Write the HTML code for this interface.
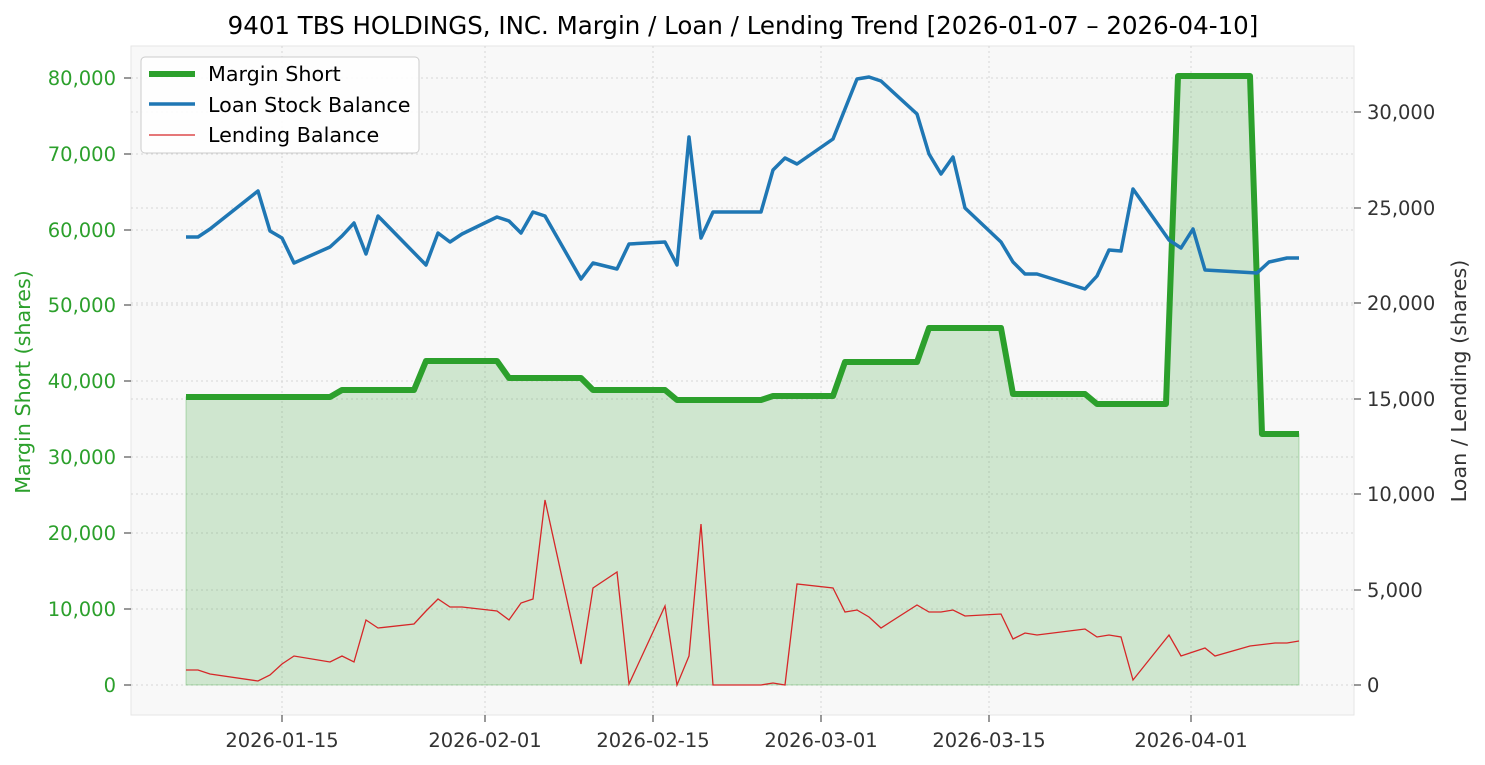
<!DOCTYPE html>
<html><head><meta charset="utf-8"><style>
body{margin:0;background:#fff;}
svg{display:block;font-family:"DejaVu Sans","Liberation Sans",sans-serif;}
</style></head><body>
<svg width="1485" height="765" viewBox="0 0 1485 765">
<rect x="0" y="0" width="1485" height="765" fill="#fff"/>
<rect x="131" y="46" width="1223" height="669" fill="#f8f8f8" stroke="#e6e6e6"/>
<g stroke="#d6d6d6" stroke-width="1" stroke-dasharray="2,3">
<line x1="282" y1="46" x2="282" y2="715"/><line x1="485" y1="46" x2="485" y2="715"/>
<line x1="653" y1="46" x2="653" y2="715"/><line x1="821" y1="46" x2="821" y2="715"/>
<line x1="989" y1="46" x2="989" y2="715"/><line x1="1191" y1="46" x2="1191" y2="715"/>
<line x1="131" y1="685" x2="1354" y2="685"/><line x1="131" y1="609" x2="1354" y2="609"/>
<line x1="131" y1="533" x2="1354" y2="533"/><line x1="131" y1="457" x2="1354" y2="457"/>
<line x1="131" y1="381" x2="1354" y2="381"/><line x1="131" y1="305" x2="1354" y2="305"/>
<line x1="131" y1="230" x2="1354" y2="230"/><line x1="131" y1="154" x2="1354" y2="154"/>
<line x1="131" y1="78" x2="1354" y2="78"/>
<line x1="131" y1="590" x2="1354" y2="590"/><line x1="131" y1="494" x2="1354" y2="494"/>
<line x1="131" y1="399" x2="1354" y2="399"/><line x1="131" y1="303" x2="1354" y2="303"/>
<line x1="131" y1="208" x2="1354" y2="208"/><line x1="131" y1="112" x2="1354" y2="112"/>
</g>
<polygon fill="#2ca02c" fill-opacity="0.2" stroke="#2ca02c" stroke-opacity="0.3" points="186,685 186,397 330,397 342,390 414,390 426,361 497,361 509,378 581,378 593,390 665,390 677,400 761,400 773,396 833,396 845,362 917,362 929,328 1001,328 1013,394 1085,394 1097,404 1166,404 1178,76 1250,76 1262,434 1299,434 1299,685"/>
<polyline fill="none" stroke="#d62728" stroke-width="1.3" points="186,670 198,670 210,674 258,681 270,675 282,664 294,656 330,662 342,656 354,662 366,620 378,628 414,624 426,611 438,599 450,607 462,607 497,611 509,620 521,603 533,599 545,500 581,664 593,588 617,572 629,684 665,606 677,685 689,656 701,524 713,685 761,685 773,683 785,685 797,584 833,588 845,612 857,610 869,617 881,628 917,605 929,612 941,612 953,610 965,616 1001,614 1013,639 1025,633 1037,635 1085,629 1097,637 1109,635 1121,637 1133,680 1169,635 1181,656 1193,652 1205,648 1215,656 1250,646 1275,643 1287,643 1299,641"/>
<polyline fill="none" stroke="#2ca02c" stroke-width="6" stroke-linejoin="round" points="186,397 330,397 342,390 414,390 426,361 497,361 509,378 581,378 593,390 665,390 677,400 761,400 773,396 833,396 845,362 917,362 929,328 1001,328 1013,394 1085,394 1097,404 1166,404 1178,76 1250,76 1262,434 1299,434"/>
<polyline fill="none" stroke="#1f77b4" stroke-width="3.5" stroke-linejoin="round" points="186,237 198,237 210,229 258,191 270,231 282,238 294,263 330,247 342,236 354,223 366,254 378,216 426,265 438,233 450,242 462,234 497,217 509,221 521,233 533,212 545,216 581,279 593,263 617,269 629,244 665,242 677,265 689,137 701,238 713,212 761,212 773,170 785,158 797,164 833,139 857,79 869,77 881,81 917,114 929,154 941,174 953,157 965,208 1001,242 1013,262 1025,274 1037,274 1085,289 1097,276 1109,250 1121,251 1133,189 1169,240 1181,248 1193,229 1205,270 1257,273 1269,262 1287,258 1299,258"/>
<g font-size="19.5" fill="#2ca02c" text-anchor="end">
<text x="116" y="692">0</text><text x="116" y="616">10,000</text><text x="116" y="540">20,000</text>
<text x="116" y="464">30,000</text><text x="116" y="388">40,000</text><text x="116" y="312">50,000</text>
<text x="116" y="237">60,000</text><text x="116" y="161">70,000</text><text x="116" y="85">80,000</text>
</g>
<g stroke="#333" stroke-width="1">
<line x1="124" y1="685" x2="131" y2="685"/><line x1="124" y1="609" x2="131" y2="609"/><line x1="124" y1="533" x2="131" y2="533"/><line x1="124" y1="457" x2="131" y2="457"/><line x1="124" y1="381" x2="131" y2="381"/><line x1="124" y1="305" x2="131" y2="305"/><line x1="124" y1="230" x2="131" y2="230"/><line x1="124" y1="154" x2="131" y2="154"/><line x1="124" y1="78" x2="131" y2="78"/>
<line x1="1354" y1="685" x2="1361" y2="685"/><line x1="1354" y1="590" x2="1361" y2="590"/><line x1="1354" y1="494" x2="1361" y2="494"/><line x1="1354" y1="399" x2="1361" y2="399"/><line x1="1354" y1="303" x2="1361" y2="303"/><line x1="1354" y1="208" x2="1361" y2="208"/><line x1="1354" y1="112" x2="1361" y2="112"/>
<line x1="282" y1="715" x2="282" y2="722"/><line x1="485" y1="715" x2="485" y2="722"/><line x1="653" y1="715" x2="653" y2="722"/><line x1="821" y1="715" x2="821" y2="722"/><line x1="989" y1="715" x2="989" y2="722"/><line x1="1191" y1="715" x2="1191" y2="722"/>
</g>
<g font-size="19.5" fill="#333">
<text x="1367" y="692">0</text><text x="1367" y="597">5,000</text><text x="1367" y="501">10,000</text>
<text x="1367" y="406">15,000</text><text x="1367" y="310">20,000</text><text x="1367" y="215">25,000</text><text x="1367" y="119">30,000</text>
</g>
<g font-size="19.5" fill="#333" text-anchor="middle">
<text x="282" y="747">2026-01-15</text><text x="485" y="747">2026-02-01</text><text x="653" y="747">2026-02-15</text>
<text x="821" y="747">2026-03-01</text><text x="989" y="747">2026-03-15</text><text x="1191" y="747">2026-04-01</text>
</g>
<text x="30" y="382" font-size="20.7" fill="#2ca02c" text-anchor="middle" transform="rotate(-90 30 382)">Margin Short (shares)</text>
<text x="1466" y="381" font-size="20.7" fill="#333" text-anchor="middle" transform="rotate(-90 1466 381)">Loan / Lending (shares)</text>
<text x="743" y="34" font-size="24.5" fill="#000" text-anchor="middle">9401 TBS HOLDINGS, INC. Margin / Loan / Lending Trend [2026-01-07 – 2026-04-10]</text>
<rect x="141" y="57" width="278" height="96" rx="4" fill="#fff" fill-opacity="0.85" stroke="#ccc"/>
<line x1="149" y1="74" x2="195" y2="74" stroke="#2ca02c" stroke-width="6"/>
<line x1="149" y1="104" x2="195" y2="104" stroke="#1f77b4" stroke-width="3.5"/>
<line x1="149" y1="135" x2="195" y2="135" stroke="#d62728" stroke-width="1.3"/>
<g font-size="20.7" fill="#000">
<text x="208" y="81">Margin Short</text><text x="208" y="112">Loan Stock Balance</text><text x="208" y="142">Lending Balance</text>
</g>
</svg>
</body></html>
